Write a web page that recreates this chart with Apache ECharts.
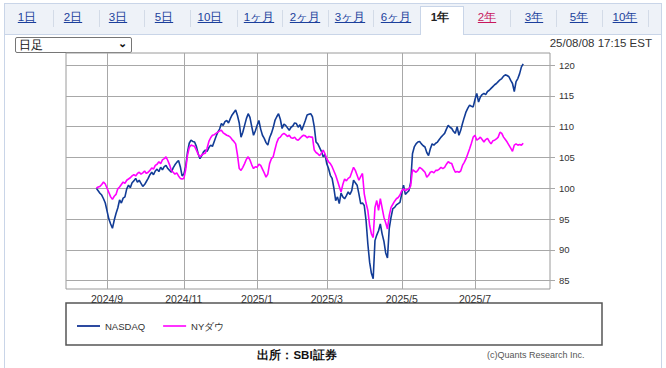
<!DOCTYPE html>
<html><head><meta charset="utf-8">
<script src="https://cdn.jsdelivr.net/npm/echarts@6/dist/echarts.min.js"></script>
<style>
html,body{margin:0;padding:0;width:666px;height:368px;overflow:hidden;background:#fff;font-family:"Liberation Sans",Arial,sans-serif;}
#frame{position:absolute;left:4px;top:3px;width:658px;height:370px;border:1px solid #c9d5e8;box-sizing:border-box;}
#tabs{position:absolute;left:5px;top:4px;width:656px;height:30px;background:#eef2f8;border-bottom:1px solid #c9d5e8;}
.tab{position:absolute;top:10px;font-size:11.5px;line-height:14px;color:#1b3f9c;text-decoration:underline;transform:translateX(-50%);white-space:nowrap;}
.sep{position:absolute;top:10px;width:1px;height:17px;background:#d3dbe7;}
#active{position:absolute;left:420px;top:6px;width:44px;height:29px;background:#fff;border:1px solid #c9d5e8;border-bottom:none;box-sizing:border-box;}
#sel{position:absolute;left:15px;top:37px;width:117px;height:16px;border:1px solid #767676;border-radius:2px;background:#fff;box-sizing:border-box;font-size:12px;line-height:14px;padding-left:3px;color:#111;}
#sel span{position:absolute;right:4px;top:-2px;font-size:11px;font-weight:bold;}
#ts{position:absolute;right:14px;top:37px;font-size:11.5px;color:#333;}
#src{position:absolute;left:297px;top:348px;transform:translateX(-50%);font-size:11.5px;font-weight:bold;color:#111;white-space:nowrap;}
#copy{position:absolute;left:487px;top:350px;font-size:9px;color:#555;white-space:nowrap;}
#chart{position:absolute;left:0;top:0;width:666px;height:368px;}
</style></head>
<body>
<div id="frame"></div>
<div id="tabs"></div>
<div id="active"></div>
<div class="tab" style="left:27px">1日</div>
<div class="tab" style="left:73px">2日</div>
<div class="tab" style="left:118px">3日</div>
<div class="tab" style="left:164px">5日</div>
<div class="tab" style="left:210px">10日</div>
<div class="tab" style="left:259px">1ヶ月</div>
<div class="tab" style="left:305px">2ヶ月</div>
<div class="tab" style="left:350px">3ヶ月</div>
<div class="tab" style="left:396px">6ヶ月</div>
<div class="tab" style="left:440px;color:#222;text-decoration:none;font-weight:bold">1年</div>
<div class="tab" style="left:487px;color:#c8175d">2年</div>
<div class="tab" style="left:534px">3年</div>
<div class="tab" style="left:579px">5年</div>
<div class="tab" style="left:625px">10年</div>
<div class="sep" style="left:53px"></div>
<div class="sep" style="left:99px"></div>
<div class="sep" style="left:144px"></div>
<div class="sep" style="left:190px"></div>
<div class="sep" style="left:237px"></div>
<div class="sep" style="left:282px"></div>
<div class="sep" style="left:328px"></div>
<div class="sep" style="left:373px"></div>
<div class="sep" style="left:510px"></div>
<div class="sep" style="left:556px"></div>
<div class="sep" style="left:602px"></div>
<div class="sep" style="left:648px"></div>
<div id="sel">日足<span>&#8964;</span></div>
<div id="ts">25/08/08 17:15 EST</div>
<div id="src">出所：SBI証券</div>
<div id="copy">(c)Quants Research Inc.</div>
<div id="chart"></div>
<script>
// ---- data ----
var axisStart = '2024-07-31';
var axisEnd = '2025-08-29';
var holidays = ['2024-09-02','2024-11-28','2024-12-25','2025-01-01','2025-01-09','2025-01-20','2025-02-17','2025-04-18','2025-05-26','2025-06-19','2025-07-04'];
var seriesStart = '2024-08-23';
var tickDates = ['2024-09-03','2024-11-01','2025-01-02','2025-03-03','2025-05-01','2025-07-01'];
var tickLabels = ['2024/9','2024/11','2025/1','2025/3','2025/5','2025/7'];
var yTicks = [85,90,95,100,105,110,115,120];
var seriesNames = ['NASDAQ','NYダウ'];

var nasdaq = [
100.0,99.6,99.2,98.9,98.3,97.6,96.3,95.0,94.2,93.5,
94.8,95.9,96.8,98.1,97.6,98.4,98.6,99.9,100.5,100.1,
100.9,101.2,101.6,101.0,101.3,100.8,100.3,100.6,101.1,101.6,
102.2,102.6,102.2,102.8,103.1,102.7,103.4,103.0,103.5,103.7,
103.2,102.9,102.6,103.3,103.8,104.2,104.5,103.5,102.0,102.3,
103.5,105.8,107.3,107.8,107.6,107.5,106.8,105.6,104.8,105.3,
105.9,106.2,106.0,106.6,107.0,106.8,107.6,108.4,109.1,109.6,
110.5,110.2,110.8,111.0,110.6,111.3,111.9,112.3,112.7,111.8,
110.6,108.3,109.1,110.2,111.3,112.1,111.5,110.0,108.6,109.3,
110.2,111.0,109.6,108.6,108.1,107.4,107.0,108.2,108.9,109.8,
111.0,111.6,112.1,111.2,109.7,110.4,110.2,109.8,109.4,109.9,
110.1,110.6,110.5,109.9,110.3,109.4,110.2,111.0,111.9,112.0,
112.1,111.6,110.0,107.5,107.2,106.6,106.0,105.1,105.5,104.0,
103.2,102.1,101.6,100.0,98.0,98.6,97.5,99.2,98.6,98.3,
98.8,99.4,99.0,99.6,101.3,100.9,100.5,99.1,97.5,97.6,
97.2,94.8,91.0,88.0,86.2,85.3,91.5,92.4,93.1,94.2,
92.6,91.4,89.5,88.7,93.5,95.3,96.7,96.9,97.3,97.5,
97.7,99.1,100.5,99.0,99.3,99.6,101.0,105.6,106.7,107.2,
107.5,107.6,107.2,106.9,106.7,105.8,105.3,106.4,107.2,107.0,
107.3,107.5,107.9,108.3,108.6,108.9,109.6,110.2,109.9,109.7,
109.2,108.9,110.0,108.6,109.4,110.5,111.5,112.4,113.0,113.5,
113.3,113.2,114.4,115.4,114.0,114.8,115.2,115.4,115.2,115.7,
115.9,116.2,116.5,116.8,117.0,117.3,117.6,117.8,118.2,118.4,
118.3,118.1,117.5,117.0,115.7,117.3,117.8,118.6,119.7,120.2
];
var nyDow = [
100.0,100.2,100.3,100.6,101.0,100.7,100.0,99.3,98.6,98.2,
98.7,99.0,99.9,100.2,100.6,101.0,100.8,101.3,101.5,101.7,
102.0,102.2,102.0,102.4,102.6,102.3,102.5,102.8,102.4,102.6,
102.9,103.3,103.1,103.7,103.9,104.3,104.0,104.6,104.8,105.1,
104.5,103.8,102.9,102.6,102.3,102.5,102.0,101.6,101.5,101.6,
103.0,105.3,106.6,107.0,106.9,106.8,106.2,105.5,105.1,105.4,
105.6,105.7,106.5,107.6,108.2,108.6,108.7,108.9,109.1,109.3,
109.4,109.0,108.8,108.6,108.5,108.3,107.9,107.6,107.2,105.4,
103.2,102.9,103.4,104.0,104.7,105.1,104.6,103.8,103.2,103.5,
103.4,103.9,103.7,103.1,102.5,101.8,102.3,104.0,104.8,105.1,
106.3,107.4,108.1,108.3,108.7,108.9,108.7,108.4,108.6,108.2,
108.1,108.3,107.9,107.8,108.1,108.4,108.6,108.5,108.2,108.4,
108.3,108.3,106.2,105.8,105.6,105.3,105.7,106.2,105.6,104.8,
104.3,104.0,103.5,102.8,102.1,101.2,100.3,99.4,100.6,101.5,
101.2,101.6,101.8,102.6,103.4,102.9,102.1,101.3,101.9,102.4,
99.1,97.6,96.4,94.0,92.6,92.0,96.9,98.0,96.4,98.3,
96.8,95.3,94.4,93.4,95.6,96.9,97.4,97.9,98.3,98.5,
98.9,99.6,99.9,99.6,99.8,99.9,100.4,103.0,102.8,102.6,
102.9,103.4,103.2,102.9,102.6,101.8,102.1,102.6,102.7,102.5,
102.9,102.9,103.1,103.4,103.2,103.4,103.9,104.3,104.1,104.0,
103.2,102.6,102.7,102.6,102.8,103.7,104.2,104.8,105.6,106.4,
107.3,108.3,108.6,107.8,108.0,108.3,107.9,107.5,107.9,108.1,
107.6,107.2,107.7,107.8,108.0,108.3,109.1,108.9,108.3,107.9,
107.5,107.0,106.5,106.0,107.0,107.2,107.0,107.1,107.0,107.3
];

// ---- trading-day categories (weekdays minus US market holidays) ----
function pad(n){return (n<10?'0':'')+n;}
function fmt(d){return d.getUTCFullYear()+'-'+pad(d.getUTCMonth()+1)+'-'+pad(d.getUTCDate());}
var dates = [];
(function(){
  var d = new Date(axisStart+'T00:00:00Z'), end = new Date(axisEnd+'T00:00:00Z');
  while (d <= end) {
    var wd = d.getUTCDay(), s = fmt(d);
    if (wd !== 0 && wd !== 6 && holidays.indexOf(s) < 0) dates.push(s);
    d.setUTCDate(d.getUTCDate()+1);
  }
})();
var offset = dates.indexOf(seriesStart);
function place(arr){
  var out = dates.map(function(){return null;});
  for (var i=0;i<arr.length;i++) out[offset+i] = arr[i];
  return out;
}
function isTick(idx, val){ return tickDates.indexOf(val) >= 0; }

var chart = echarts.init(document.getElementById('chart'), null, {renderer:'svg'});
chart.setOption({
  animation:false,
  backgroundColor:'transparent',
  grid:{left:66, right:116, top:53, bottom:79, show:true, borderColor:'#9a9a9a', borderWidth:1, backgroundColor:'transparent'},
  xAxis:{
    type:'category', data:dates, boundaryGap:false,
    axisLine:{show:false}, axisTick:{show:false},
    axisLabel:{interval:isTick, hideOverlap:false,
      formatter:function(v){var k=tickDates.indexOf(v); return k>=0?tickLabels[k]:'';},
      margin:4, fontSize:10.5, color:'#333', fontFamily:'"Liberation Sans Narrow","Liberation Sans",Arial'},
    splitLine:{show:true, interval:isTick, lineStyle:{color:'#a8a8a8', width:1}}
  },
  yAxis:{
    type:'value', position:'right', min:83.65, max:121.95,
    axisLine:{show:false},
    axisTick:{show:true, length:5, customValues:yTicks, lineStyle:{color:'#a8a8a8'}},
    axisLabel:{customValues:yTicks, margin:9, fontSize:9.5, color:'#333', fontFamily:'"Liberation Sans",Arial'},
    splitLine:{show:true, lineStyle:{color:'#a8a8a8', width:1}}
  },
  legend:{
    left:72, top:316, itemWidth:23, itemHeight:2, icon:'rect', itemGap:18,
    textStyle:{fontSize:9.5, color:'#333', fontFamily:'"Liberation Sans",Arial'},
    data:seriesNames
  },
  graphic:[{type:'rect', shape:{x:66, y:303, width:536, height:42}, style:{fill:'none', stroke:'#555', lineWidth:1.5}, silent:true}],
  series:[
    {name:seriesNames[0], type:'line', data:place(nasdaq), symbol:'none', connectNulls:false,
     lineStyle:{color:'#123c96', width:1.6}, itemStyle:{color:'#2d4aa0'}},
    {name:seriesNames[1], type:'line', data:place(nyDow), symbol:'none', connectNulls:false,
     lineStyle:{color:'#ff00ff', width:1.6}, itemStyle:{color:'#ff33ff'}}
  ]
});
</script>
</body></html>
